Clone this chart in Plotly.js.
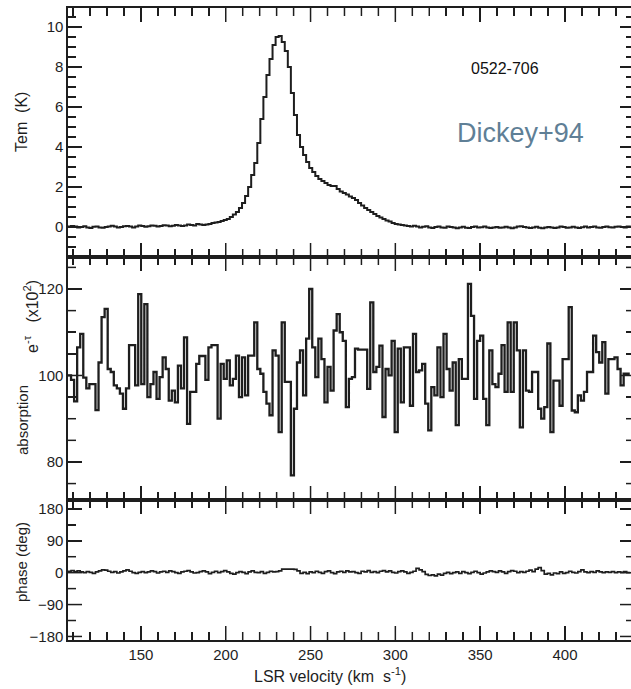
<!DOCTYPE html>
<html>
<head>
<meta charset="utf-8">
<script src="https://cdn.plot.ly/plotly-3.0.1.min.js"></script>
<style>
html,body{margin:0;padding:0;overflow:hidden;background:#fff;}
.layer{position:absolute;left:0;top:0;width:636px;height:689px;}
</style>
</head>
<body>
<div id="pTem" class="layer"></div>
<div id="pAbs" class="layer"></div>
<div id="pPhase" class="layer"></div>
<script>
// Channel grid (LSR velocity, km/s)
const velStart = 107;
const velStep = 1.8;

// Brightness temperature Tem (K)
const emission = [
0.02,0.05,0.03,-0.02,0.0,0.04,-0.03,-0.05,0.01,0.03,
-0.02,-0.04,0.0,0.03,0.06,0.02,-0.03,0.0,0.04,0.05,
0.02,-0.02,0.03,0.07,0.05,0.01,0.04,0.08,0.06,0.03,
0.05,0.09,0.07,0.04,0.06,0.1,0.08,0.05,0.07,0.12,
0.1,0.08,0.15,0.13,0.1,
0.12,0.15,0.2,0.22,0.25,0.3,0.35,0.4,0.5,0.62,
0.75,0.95,1.2,1.55,2.0,2.6,3.2,4.2,5.4,6.5,
7.6,8.4,9.1,9.5,9.55,9.25,8.8,8.0,6.7,5.6,
4.6,4.0,3.6,3.25,2.95,2.75,2.55,2.4,2.3,2.2,
2.1,2.05,2.05,1.9,1.78,1.7,1.62,1.52,1.45,1.35,
1.2,1.08,0.95,0.85,0.75,0.65,0.55,0.48,0.4,0.32,
0.28,0.2,0.15,0.12,0.1,0.08,
0.05,0.03,0.06,0.02,-0.02,0.01,0.04,-0.03,-0.05,0.0,
0.03,-0.02,-0.04,0.02,0.0,-0.03,-0.06,-0.02,0.01,-0.04,
-0.05,0.0,0.02,-0.03,-0.01,0.03,-0.02,-0.05,-0.03,0.0,
-0.04,-0.02,0.01,-0.03,-0.06,-0.02,0.02,0.04,0.0,-0.03,
-0.05,-0.02,0.01,-0.04,-0.06,-0.03,0.0,-0.02,-0.05,-0.03,
0.02,0.0,-0.04,-0.02,0.01,-0.03,-0.05,-0.01,0.02,-0.02,
0.0,0.03,-0.02,-0.04,0.0,0.02,-0.01,-0.03,0.01,0.03,
0.0,-0.02,0.02,0.01
];

// Absorption e^-tau (x10^-2)
const absorption = [
100,99,94,106.5,109.6,99.5,97,98,98,92,
103,113.5,115.4,101.5,100.8,97.7,97,95.8,92.3,97,
107,107,97.7,118.8,98,116.5,95,98,100.8,94.6,
99.6,104.2,101.5,94.2,96.5,93.8,102.3,97,108.8,88.8,
96.2,96.2,102.7,104.5,104.5,99,
106.5,107,107,90,102.7,99.2,103.5,97.7,99.2,104.6,
95,104.2,95.4,104.6,104.6,112.3,101.5,100.4,96.2,93.5,
90.8,105.8,104.6,86.9,112.3,98.5,98.5,76.9,92.3,103,
105.8,95.4,108.5,120,106.5,99.6,108.5,103.8,93.8,102,
96.5,110.4,114.2,110,108,92.7,99.2,
99.6,106.2,106,106,106,96.9,116.9,100.8,102,106.9,
90.4,101.5,100,108,86.9,106.2,93.8,106.5,106.5,93,
109.6,100.8,101.2,102.7,93.5,87.3,97.3,95.4,106.5,95,
109.6,101.5,96.5,103,88.5,103.8,99.2,99.2,121.2,113.8,
94.6,108,109.2,94.6,
88.5,105.8,98,97.3,100.4,107,96.2,112.3,96.2,112.3,
105.8,88,105.8,96.5,96.2,100.8,100.8,92.3,90,92.7,
107.4,86.9,98.8,98.8,93,103.8,103.8,115.8,91.9,91.5,
95.4,94.2,96.2,100.8,100.8,109.2,105.4,103,107.7,95.8,
103.8,103.8,104.2,101.5,97.7,100.4,100.4,100.4
];

// Phase (deg)
const phase = [
4,6,3,5,2,0,3,1,-2,2,
5,8,7,4,1,3,-1,2,5,8,
4,0,-2,1,3,0,2,5,3,-1,
2,4,1,5,3,0,-2,2,4,6,
2,-1,0,3,5,2,-3,1,4,0,
3,6,2,-2,-4,0,3,1,-3,2,
5,1,0,3,-2,1,4,2,3,5,
10,10,10,10,9,5,-2,1,-3,2,
0,4,1,-2,3,5,0,-3,2,4,
1,5,2,3,0,-2,4,2,6,1,
3,0,4,6,2,5,1,-1,3,5,
2,-2,1,4,12,8,3,-5,-8,-6,
-9,-4,-7,-2,1,-3,0,2,-2,3,
0,-3,1,4,0,-4,-1,2,5,3,
1,5,2,-2,3,6,4,0,3,1,
4,7,3,10,14,6,-4,-2,-6,-1,
-3,2,-2,0,4,1,-1,3,8,2,
0,3,1,5,2,0,2,1,3,0,
2,1,3,0,2
];

// Tick steps
const xTickStep = 50, xMinorStep = 10;
const temTickStep = 2, temMinorStep = 0.5;
const absTickStep = 20, absMinorStep = 5;
const phaseTickStep = 90, phaseMinorStep = 45;

const velocity = emission.map((_, i) => Math.round((velStart + i * velStep) * 100) / 100);

const ink = '#1e1e1e';
const fontFam = 'Liberation Sans, Arial, sans-serif';
const W = 636, HT = 689, L = 68, R = 2;
const PW = W - L - R;
const xRange = [107, 440.7];
const MAJ = 14, MIN = 8;

function axis(range, dtick, minorStep, showLabels) {
  return {
    showline: true, linecolor: ink, linewidth: 1.6, mirror: 'ticks',
    ticks: 'inside', ticklen: MAJ, tickwidth: 1.5, tickcolor: ink,
    showgrid: false, zeroline: false, showticklabels: showLabels,
    range: range, dtick: dtick,
    minor: {dtick: minorStep, ticklen: MIN, ticks: 'inside'}
  };
}

// inside tick marks on all four sides, placed through the axes' own scales
function tickMarks(yRange, yStep, yMinor, ph) {
  const shapes = [];
  const seg = (o) => Object.assign({type: 'line', layer: 'above', line: {color: ink, width: 1.5}}, o);
  const kx0 = Math.ceil(xRange[0] / xMinorStep), kx1 = Math.floor(xRange[1] / xMinorStep);
  for (let k = kx0; k <= kx1; k++) {
    const v = k * xMinorStep;
    const len = (Math.abs(v % xTickStep) < 1e-9 ? MAJ : MIN) / ph;
    shapes.push(seg({xref: 'x', yref: 'y domain', x0: v, x1: v, y0: 0, y1: len}));
    shapes.push(seg({xref: 'x', yref: 'y domain', x0: v, x1: v, y0: 1, y1: 1 - len}));
  }
  const ky0 = Math.ceil(yRange[0] / yMinor - 1e-9), ky1 = Math.floor(yRange[1] / yMinor + 1e-9);
  for (let k = ky0; k <= ky1; k++) {
    const v = k * yMinor;
    const r = v / yStep;
    const len = (Math.abs(r - Math.round(r)) < 1e-9 ? MAJ : MIN) / PW;
    shapes.push(seg({xref: 'x domain', yref: 'y', x0: 0, x1: len, y0: v, y1: v}));
    shapes.push(seg({xref: 'x domain', yref: 'y', x0: 1, x1: 1 - len, y0: v, y1: v}));
  }
  return shapes;
}

function makePanel(div, top, bottom, yvals, lw, yRange, yStep, yMinor, showXLabels, annotations) {
  const trace = {x: velocity, y: yvals, mode: 'lines', line: {shape: 'hv', color: ink, width: lw}};
  const layout = {
    width: W, height: HT,
    margin: {l: L, r: R, t: top, b: HT - bottom},
    paper_bgcolor: 'rgba(0,0,0,0)', plot_bgcolor: 'rgba(0,0,0,0)',
    showlegend: false,
    font: {family: fontFam, size: 15, color: ink},
    xaxis: axis(xRange, xTickStep, xMinorStep, showXLabels),
    yaxis: axis(yRange, yStep, yMinor, true),
    shapes: tickMarks(yRange, yStep, yMinor, bottom - top),
    annotations: annotations || []
  };
  return Plotly.newPlot(div, [trace], layout, {staticPlot: true});
}

// annotations placed in the bottom panel's paper coordinates
const bTop = 500, bBot = 640;
const ann = (text, x, y, size, color, angle) => ({
  text: text, xref: 'paper', yref: 'paper',
  x: (x - L) / PW, y: (bBot - y) / (bBot - bTop),
  xanchor: 'center', yanchor: 'middle', showarrow: false, textangle: angle || 0,
  font: {family: fontFam, size: size, color: color}
});

makePanel('pTem', 8, 257, emission, 2, [-1.5, 10.95], temTickStep, temMinorStep, false);
makePanel('pAbs', 257, 500, absorption, 2.3, [71.2, 127.4], absTickStep, absMinorStep, false);
makePanel('pPhase', bTop, bBot, phase, 1.7, [-190, 205], phaseTickStep, phaseMinorStep, true, [
  ann('0522-706', 505, 68, 16, '#111'),
  ann('Dickey+94', 520, 133, 27, '#5f7f96'),
  ann('Tem  (K)', 21, 122, 16, ink, -90),
  ann('absorption', 22, 420, 15, ink, -90),
  ann('e<sup>-τ</sup>   (x10<sup>2</sup>)', 31, 316, 16, ink, -90),
  ann('phase (deg)', 21, 562, 15, ink, -90),
  ann('LSR velocity (km  s<sup>-1</sup>)', 330, 675, 16, ink)
]);
</script>
</body>
</html>
